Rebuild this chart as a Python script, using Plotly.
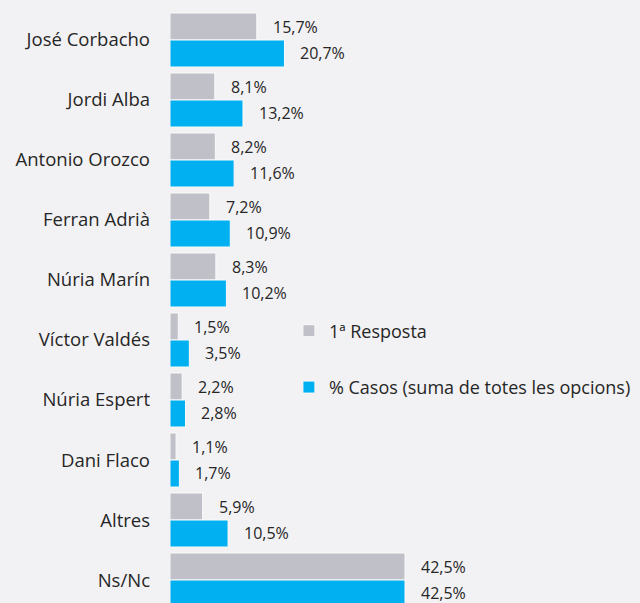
import plotly.graph_objects as go

categories = ["José Corbacho", "Jordi Alba", "Antonio Orozco", "Ferran Adrià", "Núria Marín",
              "Víctor Valdés", "Núria Espert", "Dani Flaco", "Altres", "Ns/Nc"]
primera_resposta = [15.7, 8.1, 8.2, 7.2, 8.3, 1.5, 2.2, 1.1, 5.9, 42.5]
casos = [20.7, 13.2, 11.6, 10.9, 10.2, 3.5, 2.8, 1.7, 10.5, 42.5]
series_names = ["1ª Resposta", "% Casos (suma de totes les opcions)"]

GRAY = "#c0c0c8"
BLUE = "#00b0f0"
BG = "#f2f2f4"
FONT = "Open Sans"
TXT = "#262626"

fig = go.Figure()
for name, vals, col in [(series_names[0], primera_resposta, GRAY), (series_names[1], casos, BLUE)]:
    fig.add_trace(go.Bar(
        y=categories, x=vals, name=name, orientation="h",
        marker=dict(color=col, line=dict(color="#fafafa", width=1)),
        legendgroup=name,
    ))

def fmt(v):
    return f"{v:.1f}".replace(".", ",") + "%"

annotations = []
for cat, v1, v2 in zip(categories, primera_resposta, casos):
    for v, ys in [(v1, 13.5), (v2, -12.5)]:
        annotations.append(dict(
            x=v, y=cat, xref="x", yref="y", text=fmt(v), showarrow=False,
            xanchor="left", yanchor="middle", xshift=14, yshift=ys,
            font=dict(family=FONT, size=16, color=TXT),
        ))

fig.update_layout(
    width=640, height=603,
    margin=dict(l=162, r=8, t=2, b=8),
    paper_bgcolor=BG, plot_bgcolor=BG,
    barmode="group", bargap=0.1, bargroupgap=0,
    font=dict(family=FONT, size=16, color=TXT),
    showlegend=True,
    legend=dict(x=0.253, y=0.4115, xanchor="left", yanchor="middle",
                bgcolor="rgba(0,0,0,0)", tracegroupgap=30,
                font=dict(family=FONT, size=18, color=TXT)),
    annotations=annotations,
)
fig.update_xaxes(range=[0, 85], showgrid=False, zeroline=False, showline=False,
                 showticklabels=False, ticks="")
fig.update_yaxes(categoryorder="array", categoryarray=categories,
                 range=[9.383, -0.5], showgrid=False, zeroline=False, showline=False,
                 ticks="", ticklabelstandoff=19,
                 tickfont=dict(family=FONT, size=18.5, color=TXT))

fig.write_html("out.html",
               post_script="document.body.style.backgroundColor='%s';" % BG)
